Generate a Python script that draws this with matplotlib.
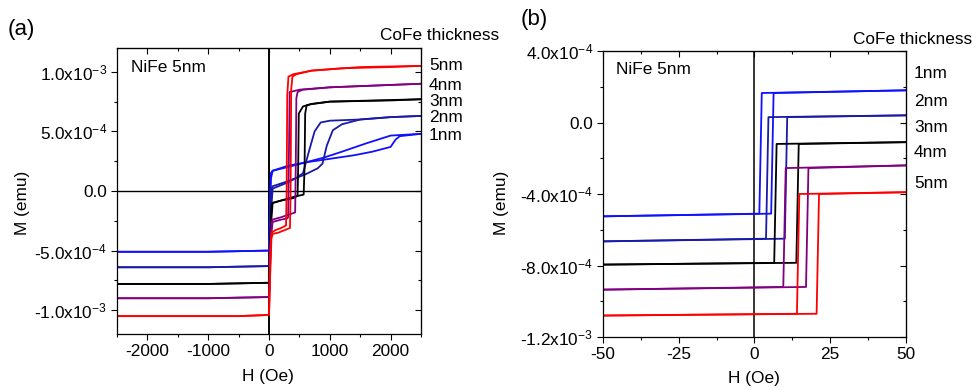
import matplotlib
matplotlib.use("Agg")
import matplotlib.pyplot as plt
from matplotlib.ticker import MultipleLocator
import numpy as np

plt.rcParams['font.family'] = ['Liberation Sans', 'DejaVu Sans']
plt.rcParams['mathtext.default'] = 'regular'
plt.rcParams['mathtext.fontset'] = 'custom'
plt.rcParams['mathtext.rm'] = 'Liberation Sans'

# ---------------- data (M in units of 1e-4 emu) ----------------
thickness = ["1nm", "2nm", "3nm", "4nm", "5nm"]
colors = ["#1010ff", "#1a1aa8", "#000000", "#800080", "#ff0000"]

# Panel (a): H from -2500 to 2500 Oe, ascending / descending branches
a1_up_H = [-2500, -1000, 0, 15, 30, 60, 300, 600, 1000, 1400, 1700, 2000, 2080, 2150, 2500]
a1_up_M = [-5.1, -5.1, -5.0, -2.0, 1.5, 1.7, 2.0, 2.4, 2.7, 3.0, 3.3, 3.7, 4.3, 4.6, 4.8]
a1_dn_H = [2500, 2000, 1600, 1200, 900, 600, 300, 60, 30, 10, 0, -1000, -2500]
a1_dn_M = [4.8, 4.65, 4.0, 3.3, 2.8, 2.4, 2.1, 1.7, 1.0, -3.0, -5.0, -5.1, -5.1]

a2_up_H = [-2500, -1000, 0, 20, 40, 60, 300, 600, 800, 880, 950, 1050, 1200, 1500, 2000, 2500]
a2_up_M = [-6.4, -6.4, -6.3, -3.0, 0.2, 0.4, 0.8, 1.4, 1.9, 2.3, 3.8, 5.1, 5.6, 6.0, 6.2, 6.3]
a2_dn_H = [2500, 2000, 1500, 1000, 850, 750, 650, 560, 450, 300, 60, 30, 10, 0, -1000, -2500]
a2_dn_M = [6.3, 6.2, 6.0, 5.9, 5.75, 5.0, 3.2, 1.5, 1.1, 0.7, 0.2, -2.0, -6.0, -6.3, -6.4, -6.4]

a3_up_H = [-2500, -1000, 0, 20, 40, 60, 200, 400, 570, 585, 595, 620, 700, 1000, 2000, 2500]
a3_up_M = [-7.8, -7.8, -7.7, -5.0, -1.2, -1.0, -0.8, -0.5, -0.3, 2.0, 6.5, 7.2, 7.3, 7.5, 7.6, 7.7]
a3_dn_H = [2500, 1000, 700, 560, 490, 480, 470, 400, 200, 60, 30, 10, 0, -1000, -2500]
a3_dn_M = [7.7, 7.5, 7.3, 7.1, 6.5, 2.0, -0.4, -0.6, -0.8, -1.0, -3.0, -7.0, -7.7, -7.8, -7.8]

a4_up_H = [-2500, -1000, 0, 20, 40, 60, 200, 430, 440, 450, 470, 550, 1000, 2000, 2500]
a4_up_M = [-9.0, -9.0, -8.9, -6.0, -2.6, -2.4, -2.2, -1.8, 2.0, 7.8, 8.3, 8.5, 8.7, 8.9, 9.0]
a4_dn_H = [2500, 1000, 500, 340, 325, 315, 300, 200, 60, 30, 10, 0, -1000, -2500]
a4_dn_M = [9.0, 8.7, 8.5, 8.3, 2.0, -2.2, -2.3, -2.4, -2.6, -4.0, -8.0, -8.9, -9.0, -9.0]

a5_up_H = [-2500, -1500, -500, 0, 20, 40, 60, 150, 250, 345, 355, 365, 385, 450, 700, 1200, 2000, 2500]
a5_up_M = [-10.5, -10.5, -10.5, -10.4, -7.0, -4.0, -3.6, -3.5, -3.3, -3.1, 0.0, 8.5, 9.6, 9.8, 10.1, 10.3, 10.4, 10.5]
a5_dn_H = [2500, 1500, 700, 400, 320, 300, 290, 280, 200, 100, 40, 20, 5, 0, -500, -1500, -2500]
a5_dn_M = [10.5, 10.4, 10.1, 9.8, 9.6, 8.0, 0.0, -2.9, -3.1, -3.3, -3.5, -5.0, -9.5, -10.4, -10.5, -10.5, -10.5]

# Panel (b): minor loops, H from -50 to 50 Oe
b_low_left = [-5.25, -6.65, -7.95, -9.35, -10.8]
b_low_right = [-5.1, -6.5, -7.85, -9.2, -10.7]
b_high_left = [1.65, 0.3, -1.2, -2.55, -4.0]
b_high_right = [1.8, 0.4, -1.1, -2.4, -3.9]
b_Hc_down = [1.6, 3.8, 6.5, 9.5, 14.0]
b_Hc_up = [5.5, 10.0, 13.8, 17.0, 20.5]

a_branches = [
    (a1_up_H, a1_up_M, a1_dn_H, a1_dn_M),
    (a2_up_H, a2_up_M, a2_dn_H, a2_dn_M),
    (a3_up_H, a3_up_M, a3_dn_H, a3_dn_M),
    (a4_up_H, a4_up_M, a4_dn_H, a4_dn_M),
    (a5_up_H, a5_up_M, a5_dn_H, a5_dn_M),
]

a_yticks = [-1.0e-3, -5.0e-4, 0.0, 5.0e-4, 1.0e-3]
a_yticklabels = ["-1.0x10$^{-3}$", "-5.0x10$^{-4}$", "0.0", "5.0x10$^{-4}$", "1.0x10$^{-3}$"]
a_xticks = [-2000, -1000, 0, 1000, 2000]
b_yticks = [-1.2e-3, -8.0e-4, -4.0e-4, 0.0, 4.0e-4]
b_yticklabels = ["-1.2x10$^{-3}$", "-8.0x10$^{-4}$", "-4.0x10$^{-4}$", "0.0", "4.0x10$^{-4}$"]
b_xticks = [-50, -25, 0, 25, 50]

W, H = 978, 390
fig = plt.figure(figsize=(W / 100, H / 100), dpi=100)

def px(x0, y0, x1, y1):
    return [x0 / W, 1 - y1 / H, (x1 - x0) / W, (y1 - y0) / H]

axa = fig.add_axes(px(117, 48, 421, 334))
axb = fig.add_axes(px(603, 51, 906, 337))

FS = 12.4
LW = 1.3

def style(ax, xlim, ylim, xticks, xminor, yticks, ylabels, yminor):
    ax.set_xlim(*xlim)
    ax.set_ylim(*ylim)
    ax.set_xticks(xticks)
    ax.set_xticklabels([str(t) for t in xticks])
    ax.set_yticks(yticks)
    ax.set_yticklabels(ylabels)
    ax.xaxis.set_minor_locator(MultipleLocator(xminor))
    ax.yaxis.set_minor_locator(MultipleLocator(yminor))
    ax.tick_params(which='both', direction='out', labelsize=FS, width=0.8, pad=3)
    ax.tick_params(which='major', length=4)
    ax.tick_params(which='minor', length=2.5)
    for s in ax.spines.values():
        s.set_linewidth(0.9)
    sx = ax.secondary_xaxis('top')
    sx.set_xticks(xticks)
    sx.xaxis.set_minor_locator(MultipleLocator(xminor))
    sx.tick_params(which='both', direction='in', labeltop=False, width=0.8)
    sx.tick_params(which='major', length=4)
    sx.tick_params(which='minor', length=2.5)
    sy = ax.secondary_yaxis('right')
    sy.set_yticks(yticks)
    sy.yaxis.set_minor_locator(MultipleLocator(yminor))
    sy.tick_params(which='both', direction='in', labelright=False, width=0.8)
    sy.tick_params(which='major', length=4)
    sy.tick_params(which='minor', length=2.5)

# ---- panel (a)
for (uh, um, dh, dm), c in zip(a_branches, colors):
    axa.plot(uh, np.array(um) * 1e-4, color=c, lw=LW)
    axa.plot(dh, np.array(dm) * 1e-4, color=c, lw=LW)
axa.axhline(0, color='k', lw=1.0, zorder=0)
axa.axvline(0, color='k', lw=1.4, zorder=0)
style(axa, (-2500, 2500), (-1.2e-3, 1.2e-3), a_xticks, 500,
      a_yticks, a_yticklabels, 2.5e-4)

# ---- panel (b)
for i, c in enumerate(colors):
    hu, hd = b_Hc_up[i], b_Hc_down[i]
    up_H = [-50, hu, hu + 0.8, 50]
    up_M = [b_low_left[i], b_low_right[i], b_high_left[i], b_high_right[i]]
    dn_H = [50, hd + 0.8, hd, -50]
    dn_M = [b_high_right[i], b_high_left[i], b_low_right[i], b_low_left[i]]
    axb.plot(up_H, np.array(up_M) * 1e-4, color=c, lw=LW)
    axb.plot(dn_H, np.array(dn_M) * 1e-4, color=c, lw=LW)
axb.axvline(0, color='k', lw=1.1, zorder=0)
style(axb, (-50, 50), (-1.2e-3, 4.0e-4), b_xticks, 12.5,
      b_yticks, b_yticklabels, 2.0e-4)

def ftext(x, y, s, **kw):
    fig.text(x / W, 1 - y / H, s, **kw)

# titles / annotations
ftext(8, 29, "(a)", fontsize=16, va='center', ha='left')
ftext(521, 20, "(b)", fontsize=16, va='center', ha='left')
ftext(380, 36, "CoFe thickness", fontsize=FS, va='center', ha='left')
ftext(853, 39, "CoFe thickness", fontsize=FS, va='center', ha='left')
ftext(131, 68, "NiFe 5nm", fontsize=FS, va='center', ha='left')
ftext(616, 69, "NiFe 5nm", fontsize=FS, va='center', ha='left')

a_label_y = [136, 118, 102, 86, 66]
for t, yy in zip(thickness, a_label_y):
    ftext(429, yy, t, fontsize=FS, va='center', ha='left')
b_label_y = [73, 101, 127, 153, 183]
for t, yy in zip(thickness, b_label_y):
    ftext(914, yy, t, fontsize=FS, va='center', ha='left')

ftext(22, 203, "M (emu)", fontsize=FS, va='center', ha='center', rotation=90)
ftext(502, 203, "M (emu)", fontsize=FS, va='center', ha='center', rotation=90)
ftext(268, 377, "H (Oe)", fontsize=FS, va='center', ha='center')
ftext(754, 379, "H (Oe)", fontsize=FS, va='center', ha='center')

fig.savefig("out.png", dpi=100)
